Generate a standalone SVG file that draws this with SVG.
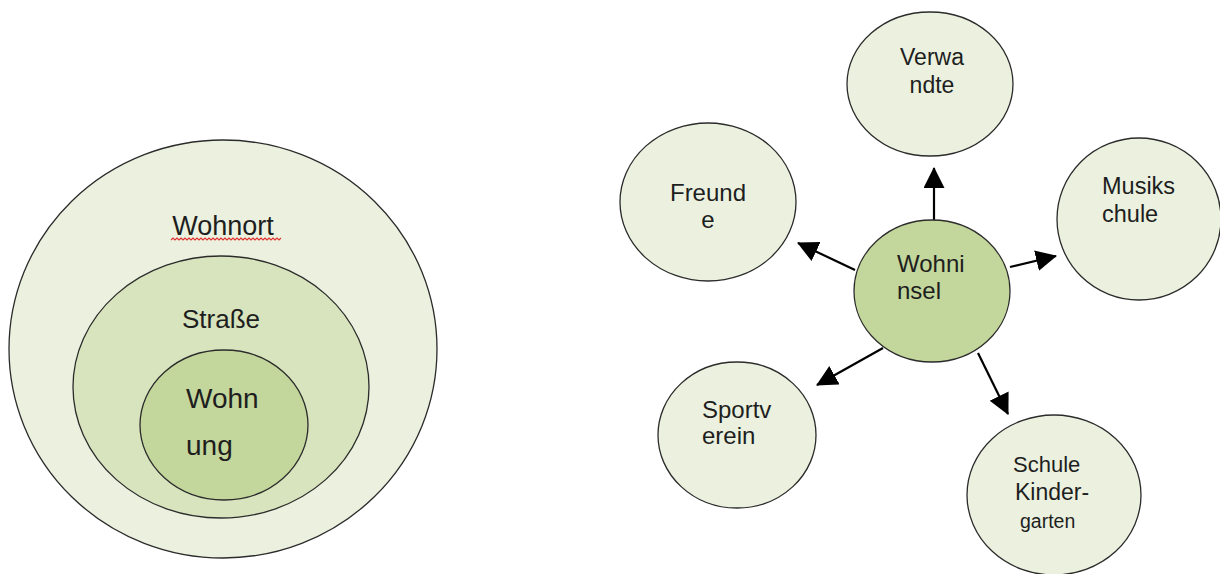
<svg xmlns="http://www.w3.org/2000/svg" width="1220" height="574" viewBox="0 0 1220 574">
<style>
.n{stroke:#2b2b2b;stroke-width:1.3}
.l1{fill:#ebf1de}
.l2{fill:#d7e4bd}
.l3{fill:#c3d69b}
text{font-family:"Liberation Sans",Arial,sans-serif;fill:#1e1e1e}
.c{stroke:#000;stroke-width:2.2;fill:none;marker-end:url(#ah)}
</style>
<defs>
<marker id="ah" markerUnits="userSpaceOnUse" markerWidth="22" markerHeight="22" refX="20" refY="10.5" orient="auto">
<path d="M0,0 L21,10.5 L0,21 z" fill="#000"/>
</marker>
</defs>
<rect width="1220" height="574" fill="#fff"/>
<g id="wohnort">
<ellipse class="n l1" cx="223" cy="349" rx="214" ry="209"/>
<text x="223" y="235" font-size="27" text-anchor="middle">Wohnort</text>
<path d="M171,240 l2,-2 l2,2 l2,-2 l2,2 l2,-2 l2,2 l2,-2 l2,2 l2,-2 l2,2 l2,-2 l2,2 l2,-2 l2,2 l2,-2 l2,2 l2,-2 l2,2 l2,-2 l2,2 l2,-2 l2,2 l2,-2 l2,2 l2,-2 l2,2 l2,-2 l2,2 l2,-2 l2,2 l2,-2 l2,2 l2,-2 l2,2 l2,-2 l2,2 l2,-2 l2,2 l2,-2 l2,2 l2,-2 l2,2 l2,-2 l2,2 l2,-2 l2,2 l2,-2 l2,2 l2,-2 l2,2 l2,-2 l2,2 l2,-2 l2,2 l2,-2" fill="none" stroke="#e03030" stroke-width="1.1"/>
</g>
<g id="strasse">
<ellipse class="n l2" cx="221" cy="387" rx="148" ry="131"/>
<text x="221" y="328" font-size="26" text-anchor="middle">Straße</text>
</g>
<g id="wohnung">
<ellipse class="n l3" cx="224" cy="425" rx="84" ry="75"/>
<text x="186" y="408" font-size="28">Wohn</text>
<text x="186" y="455" font-size="28">ung</text>
</g>
<g id="connectors">
<line class="c" x1="934" y1="220" x2="934" y2="168"/>
<line class="c" x1="855" y1="270" x2="798" y2="243"/>
<line class="c" x1="1010" y1="267" x2="1056" y2="256"/>
<line class="c" x1="883" y1="348" x2="817" y2="385"/>
<line class="c" x1="978" y1="353" x2="1008" y2="414"/>
</g>
<g id="verwandte">
<ellipse class="n l1" cx="930" cy="84" rx="83" ry="72"/>
<text x="932" y="65" font-size="23" text-anchor="middle">Verwa</text>
<text x="932" y="93" font-size="23" text-anchor="middle">ndte</text>
</g>
<g id="freunde">
<ellipse class="n l1" cx="708" cy="202" rx="88" ry="79"/>
<text x="708" y="201" font-size="24" text-anchor="middle">Freund</text>
<text x="708" y="228" font-size="24" text-anchor="middle">e</text>
</g>
<g id="musikschule">
<ellipse class="n l1" cx="1139" cy="219" rx="82" ry="81"/>
<text x="1102" y="194" font-size="23.5">Musiks</text>
<text x="1102" y="222" font-size="23.5">chule</text>
</g>
<g id="wohninsel">
<ellipse class="n l3" cx="932" cy="291" rx="78" ry="71"/>
<text x="897" y="272" font-size="24">Wohni</text>
<text x="897" y="299" font-size="24">nsel</text>
</g>
<g id="sportverein">
<ellipse class="n l1" cx="737" cy="435" rx="79" ry="73"/>
<text x="702" y="418" font-size="24">Sportv</text>
<text x="702" y="444" font-size="24">erein</text>
</g>
<g id="schule">
<ellipse class="n l1" cx="1054" cy="495" rx="87" ry="80"/>
<text x="1013" y="472" font-size="22">Schule</text>
<text x="1015" y="500" font-size="23">Kinder-</text>
<text x="1020" y="528" font-size="19.5">garten</text>
</g>
</svg>
